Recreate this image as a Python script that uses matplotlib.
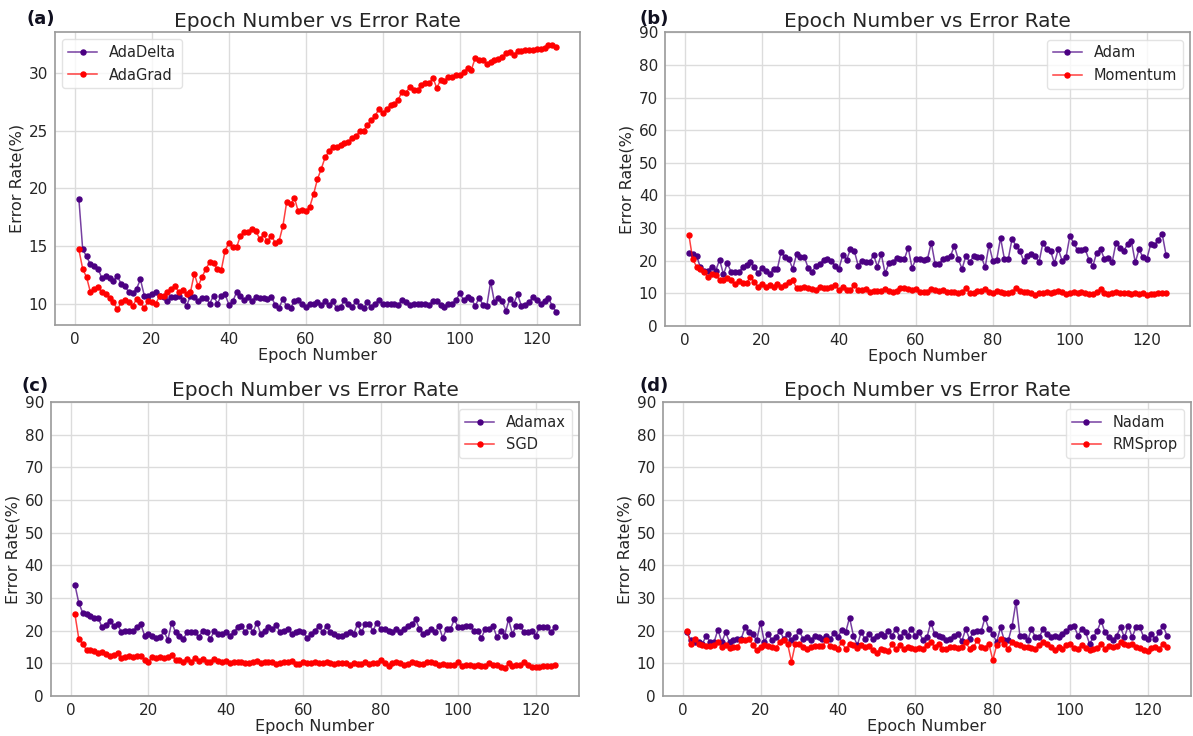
import numpy as np
from matplotlib import pyplot as plt

plt.rcParams['font.family'] = ['DejaVu Sans']

# epochs 1..125
epochs = list(range(1, 126))

# (a)
adadelta = [19.1, 14.7, 14.1, 13.4, 13.3, 13.0, 12.2, 12.4, 12.2, 12.0,
            12.4, 11.7, 11.5, 11.0, 10.9, 11.3, 12.1, 10.7, 10.7, 10.8,
            11.0, 10.7, 10.6, 10.2, 10.6, 10.6, 10.7, 10.3, 9.8, 10.7,
            10.6, 10.2, 10.5, 10.5, 10.0, 10.7, 10.0, 10.7, 10.8, 9.9,
            10.2, 11.0, 10.7, 10.3, 10.6, 10.2, 10.6, 10.5, 10.5, 10.4,
            10.6, 9.9, 9.6, 10.4, 9.8, 9.6, 10.2, 10.3, 10.0, 9.7,
            10.0, 10.0, 10.1, 9.9, 10.2, 9.9, 10.2, 9.6, 9.7, 10.3,
            10.0, 9.7, 10.2, 9.8, 9.6, 10.1, 9.7, 10.0, 10.3, 10.0,
            10.0, 10.0, 10.0, 9.9, 10.3, 10.1, 9.9, 10.0, 10.0, 10.0,
            10.0, 9.9, 10.2, 10.2, 9.9, 9.7, 10.0, 10.0, 10.3, 10.9,
            10.3, 10.6, 10.4, 9.8, 10.5, 9.9, 9.8, 11.9, 10.1, 10.5,
            10.2, 9.4, 10.4, 10.0, 10.8, 9.8, 9.9, 10.1, 10.6, 10.3,
            10.0, 10.2, 10.5, 9.8, 9.3]
adagrad = [14.7, 13.0, 12.3, 11.0, 11.3, 11.4, 11.0, 10.8, 10.5, 10.1,
           9.5, 10.1, 10.3, 10.1, 9.8, 10.4, 10.1, 9.6, 10.2, 10.1,
           10.0, 10.7, 10.7, 11.0, 11.3, 11.5, 11.0, 11.2, 10.8, 11.0,
           12.6, 11.5, 12.3, 13.0, 13.6, 13.5, 13.0, 12.9, 14.6, 15.3,
           14.9, 14.9, 15.9, 16.2, 16.2, 16.5, 16.3, 15.6, 16.0, 15.4,
           15.9, 15.3, 15.4, 16.7, 18.8, 18.6, 19.2, 18.0, 18.1, 18.0,
           18.4, 19.5, 20.8, 21.7, 22.7, 23.2, 23.6, 23.6, 23.8, 23.9,
           24.0, 24.4, 24.5, 25.0, 25.0, 25.5, 25.9, 26.3, 26.9, 26.5,
           26.9, 27.2, 27.3, 27.7, 28.4, 28.3, 28.8, 28.5, 28.5, 29.0,
           29.1, 29.1, 29.6, 28.7, 29.4, 29.3, 29.7, 29.7, 29.8, 29.8,
           30.1, 30.4, 30.3, 31.3, 31.1, 31.1, 30.8, 31.0, 31.1, 31.2,
           31.4, 31.7, 31.8, 31.6, 31.9, 31.9, 32.0, 32.0, 32.0, 32.1,
           32.1, 32.2, 32.4, 32.4, 32.3]

# (b)
adam = [22.3, 22.2, 21.5, 18.0, 17.0, 17.0, 18.2, 17.0, 20.3, 15.8,
        19.2, 16.5, 16.5, 16.5, 18.0, 18.8, 19.5, 18.2, 16.2, 17.8,
        16.8, 16.0, 17.5, 17.5, 22.8, 21.0, 20.5, 17.5, 22.0, 21.0,
        21.2, 17.8, 16.5, 18.5, 19.0, 20.2, 20.5, 20.0, 18.5, 17.5,
        21.8, 20.3, 23.5, 23.0, 18.5, 20.0, 19.5, 19.5, 21.8, 18.2,
        22.0, 16.2, 19.2, 19.5, 20.8, 20.5, 20.5, 24.0, 17.8, 20.5,
        20.5, 20.2, 20.5, 25.5, 19.0, 19.0, 20.5, 20.7, 21.5, 24.5,
        20.5, 17.5, 21.5, 19.5, 21.5, 21.2, 21.2, 18.0, 24.8, 20.0,
        20.3, 27.0, 20.5, 20.5, 26.8, 24.5, 23.0, 20.0, 21.5, 22.0,
        21.5, 19.5, 25.5, 23.5, 23.0, 19.3, 23.5, 20.0, 21.0, 27.5,
        25.5, 23.2, 23.2, 23.5, 20.2, 18.5, 22.5, 23.5, 20.5, 20.8,
        19.5, 25.5, 24.0, 23.0, 25.0, 26.0, 19.5, 23.5, 21.0, 20.5,
        25.0, 24.7, 26.5, 28.2, 21.8]
momentum = [28.0, 20.5, 18.2, 17.5, 16.5, 15.0, 16.0, 15.5, 14.2, 14.0,
            14.8, 14.0, 12.8, 13.8, 13.2, 13.2, 15.0, 13.5, 12.0, 13.0,
            12.0, 12.5, 12.0, 13.0, 12.0, 12.5, 13.5, 14.2, 11.5, 11.5,
            11.8, 11.5, 11.2, 11.0, 12.0, 11.5, 11.5, 11.8, 12.5, 11.0,
            12.0, 11.0, 11.0, 12.5, 11.0, 11.0, 11.3, 10.5, 10.8, 10.8,
            10.8, 11.3, 10.8, 10.3, 10.8, 11.5, 11.5, 11.2, 11.0, 11.3,
            10.5, 10.5, 10.5, 11.2, 11.0, 10.8, 11.0, 10.3, 10.5, 10.3,
            10.2, 10.5, 11.5, 10.0, 10.0, 10.8, 10.8, 11.3, 10.5, 10.2,
            10.8, 10.3, 10.0, 10.2, 10.5, 11.5, 10.8, 10.5, 10.3, 10.0,
            9.5, 10.0, 10.2, 10.5, 10.2, 10.5, 10.8, 10.5, 9.8, 10.0,
            10.5, 10.0, 10.5, 10.0, 9.8, 9.7, 10.3, 11.2, 10.0, 9.8,
            10.0, 10.5, 10.0, 10.0, 10.0, 9.8, 10.2, 9.8, 10.0, 9.5,
            9.8, 9.8, 10.2, 10.0, 10.0]

# (c)
adamax = [34.0, 28.5, 25.5, 25.0, 24.5, 23.8, 24.0, 21.0, 21.8, 23.0,
          21.5, 22.0, 19.5, 20.0, 19.8, 20.0, 21.0, 22.0, 18.5, 19.0,
          18.5, 17.8, 18.0, 19.8, 17.2, 22.5, 19.5, 18.5, 17.5, 19.5,
          19.5, 19.5, 18.0, 20.0, 19.5, 17.5, 20.0, 19.0, 19.0, 19.5,
          18.5, 19.5, 21.0, 21.5, 19.5, 21.5, 19.5, 22.5, 19.0, 20.0,
          21.0, 20.5, 21.8, 19.5, 20.0, 20.5, 19.0, 19.5, 20.0, 19.5,
          17.8, 19.0, 20.0, 21.5, 19.5, 21.5, 19.5, 19.0, 18.5, 18.3,
          19.0, 19.5, 19.0, 22.0, 19.5, 22.0, 22.0, 20.0, 22.5, 20.5,
          20.5, 20.0, 19.5, 20.5, 19.5, 20.5, 21.5, 22.0, 23.5, 20.5,
          19.0, 19.5, 20.5, 19.5, 21.5, 17.8, 20.5, 20.5, 23.5, 21.0,
          21.0, 21.5, 21.5, 20.0, 20.0, 17.8, 20.5, 20.5, 21.5, 18.0,
          20.0, 18.5, 23.5, 19.0, 21.5, 21.5, 19.5, 19.5, 20.0, 18.5,
          21.0, 21.0, 21.0, 19.5, 21.0]
sgd = [25.0, 17.5, 16.0, 14.0, 14.0, 13.8, 13.3, 13.5, 12.8, 12.3,
       12.5, 13.3, 11.5, 12.0, 12.3, 12.0, 12.2, 12.3, 11.0, 10.5,
       12.0, 11.5, 12.0, 11.5, 12.0, 12.5, 11.0, 11.0, 10.5, 11.3,
       10.5, 11.5, 10.8, 11.3, 10.5, 10.5, 11.2, 10.8, 10.3, 10.8,
       10.0, 10.5, 10.3, 10.5, 10.2, 10.0, 10.3, 10.8, 10.2, 10.5,
       10.3, 10.5, 9.8, 10.2, 10.5, 10.5, 10.8, 9.8, 9.8, 10.3,
       10.0, 10.2, 10.3, 10.0, 10.0, 10.5, 10.0, 9.8, 10.0, 10.0,
       10.2, 9.5, 10.0, 9.7, 9.8, 10.3, 9.8, 10.0, 10.0, 11.0,
       10.2, 9.3, 10.0, 10.3, 10.2, 9.5, 9.8, 10.3, 10.0, 9.7,
       9.8, 10.3, 10.5, 10.2, 9.5, 9.8, 9.5, 9.5, 9.5, 10.3,
       9.3, 9.5, 9.5, 9.3, 9.5, 9.3, 9.3, 10.0, 9.5, 9.5,
       9.0, 8.5, 10.0, 9.2, 9.5, 9.5, 10.3, 9.5, 9.0, 8.8,
       9.0, 9.3, 9.3, 9.3, 9.5]

# (d)
nadam = [19.5, 17.0, 16.5, 16.5, 16.0, 18.5, 16.5, 16.5, 20.3, 16.5,
         19.5, 16.5, 17.0, 17.5, 17.5, 21.0, 19.5, 19.0, 17.0, 22.5,
         16.5, 19.0, 17.0, 18.0, 20.0, 17.5, 19.0, 17.0, 18.0, 20.0,
         17.5, 18.0, 17.0, 18.5, 18.0, 17.5, 18.3, 17.5, 19.3, 18.0,
         20.3, 19.5, 24.0, 18.5, 15.5, 19.5, 17.5, 19.0, 17.5, 18.5,
         19.0, 18.5, 20.0, 18.5, 20.5, 18.0, 19.5, 18.5, 20.5, 18.5,
         19.5, 17.0, 18.0, 22.5, 19.0, 18.5, 18.0, 17.0, 17.5, 18.5,
         19.0, 16.8, 20.5, 17.5, 19.5, 19.8, 19.8, 24.0, 20.5, 19.0,
         16.5, 21.0, 17.0, 17.0, 21.5, 28.8, 18.5, 18.5, 17.0, 20.5,
         18.0, 18.0, 20.5, 19.0, 18.0, 18.5, 18.0, 19.0, 20.0, 21.0,
         21.5, 18.5, 20.5, 19.5, 16.0, 18.0, 20.0, 23.0, 19.5, 18.0,
         17.0, 18.5, 21.0, 18.0, 21.5, 18.0, 21.0, 21.0, 18.0, 17.5,
         19.0, 17.5, 19.5, 21.5, 18.5]
rmsprop = [20.0, 16.0, 17.5, 16.0, 15.5, 15.3, 15.3, 15.5, 16.5, 15.0,
           15.5, 14.8, 15.0, 15.0, 17.0, 17.0, 17.5, 15.5, 14.0, 15.0,
           15.5, 15.3, 15.0, 14.8, 16.5, 17.0, 16.0, 10.5, 16.0, 16.0,
           15.0, 14.3, 15.0, 15.3, 15.3, 15.3, 17.0, 15.3, 15.0, 14.5,
           16.5, 14.3, 16.0, 15.5, 14.8, 15.5, 15.0, 15.3, 14.0, 13.3,
           14.5, 14.0, 13.8, 15.8, 14.3, 15.5, 14.5, 15.0, 14.8, 14.5,
           14.8, 14.5, 15.5, 16.5, 15.0, 16.0, 14.5, 14.5, 15.0, 15.0,
           14.8, 15.0, 16.5, 14.5, 15.0, 17.0, 15.0, 14.8, 16.0, 11.0,
           15.5, 17.5, 15.8, 14.5, 16.5, 16.0, 15.5, 15.0, 15.0, 14.8,
           14.5, 15.5, 16.5, 16.0, 15.0, 14.0, 15.0, 14.5, 15.5, 15.8,
           14.8, 14.5, 15.5, 14.8, 14.0, 14.3, 14.8, 16.0, 14.5, 15.2,
           15.0, 15.3, 16.5, 15.8, 15.5, 16.0, 15.0, 14.8, 14.0, 13.8,
           14.8, 15.0, 14.5, 16.0, 15.0]

purple = '#4b0082'
red = '#ff0000'
textcol = '#262626'

fig = plt.figure(figsize=(11.93, 7.36), dpi=100)

def panel(rect, s1, l1, s2, l2, loc, ylim=None):
    ax = fig.add_axes(rect)
    ax.plot(epochs, s1, color=(0.29, 0.0, 0.51, 0.75), lw=1.1, marker='o', ms=3.6,
            mfc=purple, mec=purple, label=l1)
    ax.plot(epochs, s2, color=(1.0, 0.0, 0.0, 0.75), lw=1.1, marker='o', ms=3.6,
            mfc=red, mec=red, label=l2)
    if ylim is not None:
        ax.set_ylim(ylim)
        ax.set_yticks(np.arange(0, 91, 10))
    ax.set_xticks([0, 20, 40, 60, 80, 100, 120])
    ax.grid(True, color='#dcdcdc', lw=1)
    ax.set_axisbelow(True)
    for sp in ax.spines.values():
        sp.set_color('#9a9a9a')
        sp.set_linewidth(1.2)
    ax.tick_params(length=0, labelsize=11, labelcolor=textcol, pad=5)
    ax.set_title('Epoch Number vs Error Rate', fontsize=14.5, color=textcol, pad=4)
    ax.set_xlabel('Epoch Number', fontsize=11.5, color=textcol, labelpad=1)
    ax.set_ylabel('Error Rate(%)', fontsize=11.5, color=textcol, labelpad=3)
    leg = ax.legend(loc=loc, fontsize=10.5, framealpha=0.8, edgecolor='#dddddd')
    for t in leg.get_texts():
        t.set_color(textcol)
    return ax

panel([0.0461, 0.5584, 0.440, 0.398], adadelta, 'AdaDelta', adagrad, 'AdaGrad', 'upper left')
panel([0.5574, 0.5571, 0.440, 0.399], adam, 'Adam', momentum, 'Momentum', 'upper right', (0, 90))
panel([0.0427, 0.0543, 0.4426, 0.3995], adamax, 'Adamax', sgd, 'SGD', 'upper right', (0, 90))
panel([0.5557, 0.0543, 0.4426, 0.3995], nadam, 'Nadam', rmsprop, 'RMSprop', 'upper right', (0, 90))

# panel letters
fig.text(0.022, 0.967, '(a)', fontsize=13, fontweight='bold', color='#101020')
fig.text(0.536, 0.967, '(b)', fontsize=13, fontweight='bold', color='#101020')
fig.text(0.018, 0.469, '(c)', fontsize=13, fontweight='bold', color='#101020')
fig.text(0.536, 0.469, '(d)', fontsize=13, fontweight='bold', color='#101020')

fig.savefig('out.png', dpi=100)
